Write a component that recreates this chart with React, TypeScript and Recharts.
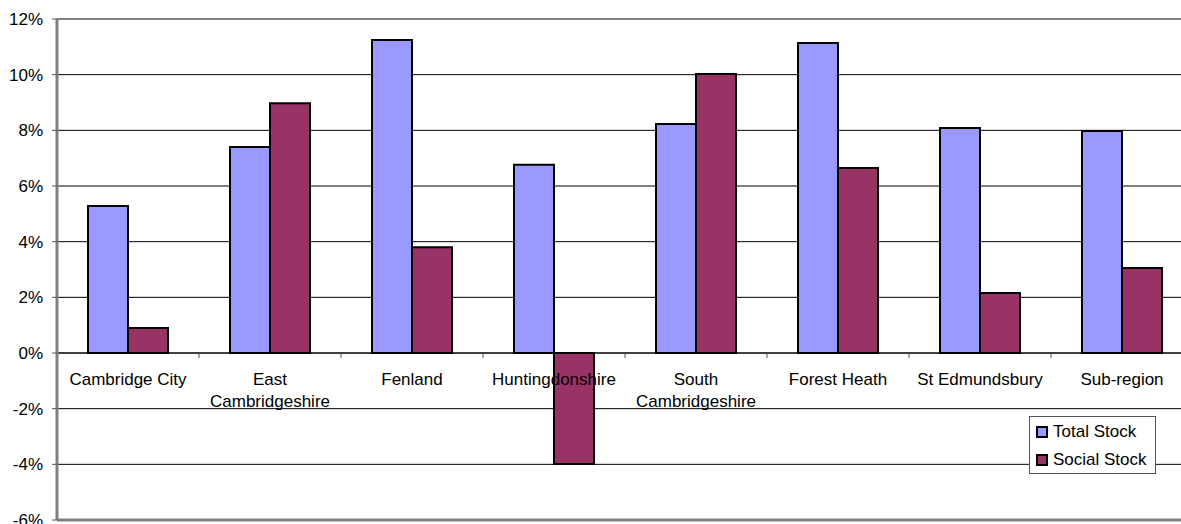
import { BarChart, Bar, XAxis, YAxis, CartesianGrid, ReferenceLine } from 'recharts'

const categories = [
  'Cambridge City',
  'East Cambridgeshire',
  'Fenland',
  'Huntingdonshire',
  'South Cambridgeshire',
  'Forest Heath',
  'St Edmundsbury',
  'Sub-region',
]

// how each category label breaks onto lines
const categoryLines = [
  ['Cambridge City'],
  ['East', 'Cambridgeshire'],
  ['Fenland'],
  ['Huntingdonshire'],
  ['South', 'Cambridgeshire'],
  ['Forest Heath'],
  ['St Edmundsbury'],
  ['Sub-region'],
]

const totalStock = [5.28, 7.4, 11.25, 6.76, 8.23, 11.14, 8.08, 7.98]
const socialStock = [0.9, 8.97, 3.8, -3.99, 10.02, 6.65, 2.16, 3.05]

const yTicks = [-6, -4, -2, 0, 2, 4, 6, 8, 10, 12]

const series = [
  { key: 'total', name: 'Total Stock', color: '#9999FF' },
  { key: 'social', name: 'Social Stock', color: '#993366' },
]

const data = categories.map((name, i) => ({
  name,
  total: totalStock[i],
  social: socialStock[i],
}))

const WIDTH = 1200
const HEIGHT = 524
const MARGIN = { top: 19, right: 7, bottom: 3, left: 0 }
const Y_AXIS_W = 57
const X_AXIS_H = 1
const PLOT_H = HEIGHT - MARGIN.top - MARGIN.bottom - X_AXIS_H
const PLOT_W = WIDTH - MARGIN.left - MARGIN.right - Y_AXIS_W
const Y_MIN = yTicks[0]
const Y_MAX = yTicks[yTicks.length - 1]
const ZERO_Y = MARGIN.top + (PLOT_H * (Y_MAX - 0)) / (Y_MAX - Y_MIN)
const BAND = PLOT_W / categories.length

const FONT = '"Liberation Sans", Arial, Helvetica, sans-serif'

function CategoryTick(props: any) {
  const { x, payload, index } = props
  const lines = categoryLines[index] || [payload.value]
  return (
    <g>
      {index < categories.length - 1 && (
        <line x1={x + BAND / 2} x2={x + BAND / 2} y1={ZERO_Y} y2={ZERO_Y + 5} stroke="#555" strokeWidth={1} />
      )}
      <text x={x} y={ZERO_Y + 32} textAnchor="middle" fontSize={17} fontFamily={FONT} fill="#000">
        {lines.map((l: string, i: number) => (
          <tspan key={i} x={x} dy={i === 0 ? 0 : 22}>
            {l}
          </tspan>
        ))}
      </text>
    </g>
  )
}

function LegendBox() {
  return (
    <div
      style={{
        position: 'absolute',
        left: 1029,
        top: 416,
        width: 125,
        height: 55,
        border: '1.5px solid #555',
        background: '#fff',
        fontFamily: FONT,
        fontSize: 17,
        color: '#000',
        paddingTop: 1,
      }}
    >
      {series.map((s) => (
        <div key={s.key} style={{ display: 'flex', alignItems: 'center', height: 28, paddingLeft: 6 }}>
          <span
            style={{
              display: 'inline-block',
              width: 8,
              height: 8,
              background: s.color,
              border: '2px solid #000',
              marginRight: 5,
            }}
          />
          <span>{s.name}</span>
        </div>
      ))}
    </div>
  )
}

export default function App() {
  return (
    <div style={{ position: 'fixed', left: 0, top: 0, width: 1181, height: 524, overflow: 'hidden', background: '#fff' }}>
      <BarChart width={WIDTH} height={HEIGHT} data={data} margin={MARGIN} barGap={0} barSize={40}>
        <CartesianGrid vertical={false} stroke="#000" strokeWidth={1} />
        <ReferenceLine y={Y_MAX} stroke="#808080" strokeWidth={2} />
        <ReferenceLine y={Y_MIN} stroke="#808080" strokeWidth={3} />
        <XAxis
          dataKey="name"
          height={X_AXIS_H}
          axisLine={false}
          tickLine={false}
          interval={0}
          tick={<CategoryTick />}
          {...({ zIndex: 0 } as any)}
        />
        <YAxis
          width={Y_AXIS_W}
          domain={[Y_MIN, Y_MAX]}
          ticks={yTicks}
          interval={0}
          tickFormatter={(v) => `${v}%`}
          axisLine={{ stroke: '#808080', strokeWidth: 3 }}
          tickLine={{ stroke: '#555' }}
          tickSize={5}
          tickMargin={9}
          tick={{ fill: '#000', fontSize: 17, fontFamily: FONT }}
        />
        <ReferenceLine y={0} stroke="#000" strokeWidth={1} />
        {series.map((s) => (
          <Bar
            key={s.key}
            dataKey={s.key}
            name={s.name}
            fill={s.color}
            stroke="#000"
            strokeWidth={2}
            isAnimationActive={false}
          />
        ))}
      </BarChart>
      <LegendBox />
    </div>
  )
}
